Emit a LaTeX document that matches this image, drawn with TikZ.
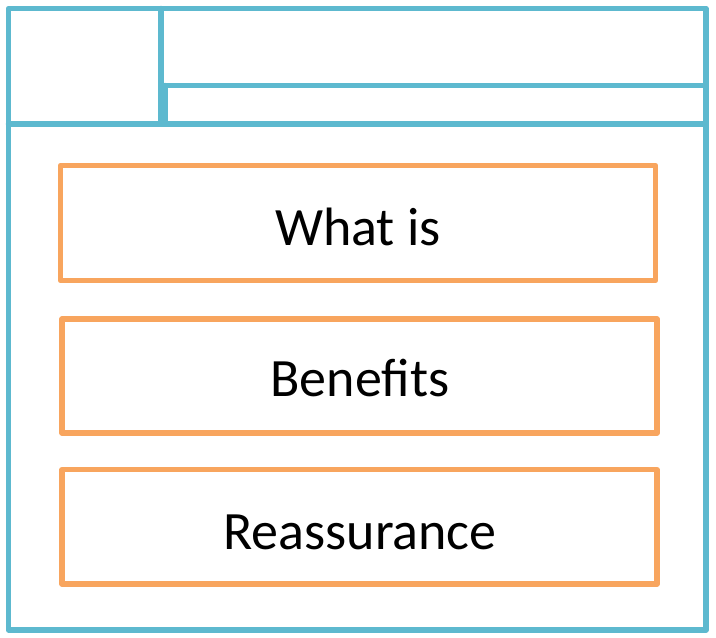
\documentclass[tikz,border=0pt]{standalone}
\usepackage{fontspec}
\setmainfont{Carlito}
\definecolor{frameblue}{HTML}{5DB9CF}
\definecolor{boxorange}{HTML}{F8A55E}
\begin{document}
\begin{tikzpicture}[x=1pt,y=-1pt,
  frame/.style={draw=frameblue,line width=5.5pt,line join=round,line cap=round},
  section/.style={draw=boxorange,line width=5.5pt,line join=round,inner sep=0pt,outer sep=0pt},
  label/.style={font=\fontsize{54}{62}\selectfont,anchor=base,inner sep=0pt,text=black}]
\useasboundingbox (0,0) rectangle (716,638);
% outer frame and header
\draw[frame] (8.5,8.5) rectangle (706,630);
\coordinate (hl) at (8.5,124);
\coordinate (hr) at (706,124);
\draw[frame] (hl) -- (hr);
\coordinate (vt) at (161,8.5);
\coordinate (vb) at (161,124);
\draw[frame] (vt) -- (vb);
\coordinate (it) at (161,85.5);
\coordinate (itr) at (706,85.5);
\draw[frame] (it) -- (itr);
\coordinate (ilt) at (165,85.5);
\coordinate (ilb) at (165,124);
\draw[frame] (ilt) -- (ilb);
% sections
\node[section,minimum width=595pt,minimum height=115pt] (b1) at (358,223) {};
\node[section,minimum width=595pt,minimum height=114pt] (b2) at (359.5,376) {};
\node[section,minimum width=595pt,minimum height=114.5pt] (b3) at (359.5,526.8) {};
\node[label] (t1) at (358,245.5) {What is};
\node[label] (t2) at (360,396) {Benefits};
\node[label] (t3) at (360,549.5) {Reassurance};
\end{tikzpicture}
\end{document}
